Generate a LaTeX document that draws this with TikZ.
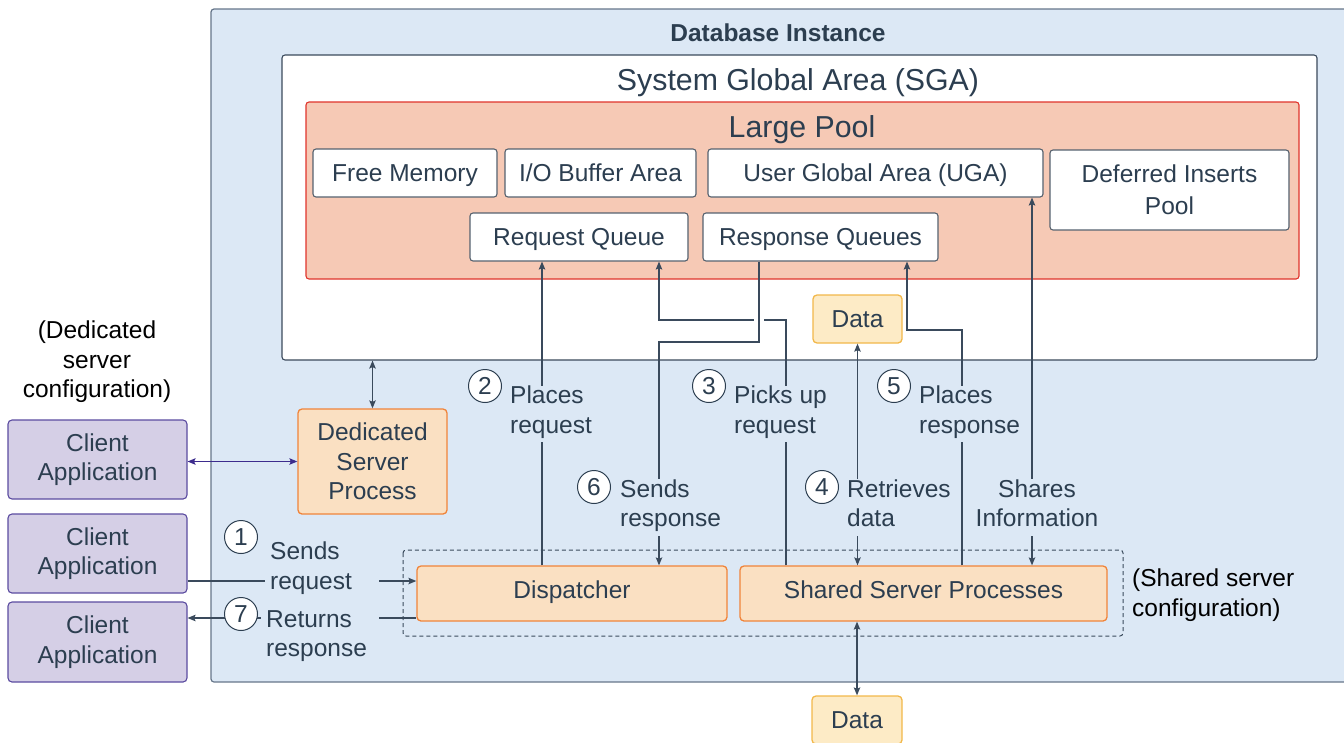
\documentclass[tikz,border=0pt]{standalone}
\usepackage{fontspec}
\setmainfont{Liberation Sans}
\usetikzlibrary{arrows.meta}
\definecolor{txt}{HTML}{2C3E50}
\definecolor{lncol}{HTML}{3A4A5C}
\definecolor{dbfill}{HTML}{DCE8F5}
\definecolor{dbborder}{HTML}{66768A}
\definecolor{sgaborder}{HTML}{3B4A5C}
\definecolor{lpfill}{HTML}{F6C9B5}
\definecolor{lpborder}{HTML}{E0342C}
\definecolor{wborder}{HTML}{56626F}
\definecolor{ofill}{HTML}{FAE0C2}
\definecolor{oborder}{HTML}{F0843A}
\definecolor{dfill}{HTML}{FDEBC6}
\definecolor{dborder}{HTML}{F2B84A}
\definecolor{cfill}{HTML}{D5CFE6}
\definecolor{cborder}{HTML}{5B4BA0}
\definecolor{pline}{HTML}{3D2C8D}
\newcommand\fsn{\fontsize{24.5}{29.5}\selectfont}
\newcommand\fst{\fontsize{30.3}{35}\selectfont}
\newcommand\fsb{\fontsize{24.5}{29}\selectfont\bfseries}
\tikzset{
  base/.style={font=\fsn, text=txt, align=center, inner sep=0pt},
  one/.style={text height=17.5pt, text depth=0pt},
  onelow/.style={text height=17.5pt, text depth=8pt},
  st/.style={execute at begin node=\strut, execute at end node=\strut},
  dbbox/.style={draw=dbborder, fill=dbfill, rounded corners=3pt, line width=1.2pt, inner sep=0pt},
  sgabox/.style={draw=sgaborder, fill=white, rounded corners=3pt, line width=1.1pt, inner sep=0pt},
  lpbox/.style={draw=lpborder, fill=lpfill, rounded corners=3pt, line width=1.1pt, inner sep=0pt},
  wbox/.style={base, draw=wborder, fill=white, rounded corners=3pt, line width=1.1pt},
  obox/.style={base, draw=oborder, fill=ofill, rounded corners=4pt, line width=1.3pt},
  datbox/.style={base, draw=dborder, fill=dfill, rounded corners=4pt, line width=1.3pt},
  cbox/.style={base, draw=cborder, fill=cfill, rounded corners=4pt, line width=1.1pt},
  ttl/.style={font=\fst, text=txt, inner sep=0pt, text height=21.7pt, text depth=0pt},
  lbl/.style={base, st, fill=dbfill, align=left, inner xsep=5pt, inner ysep=0pt},
  num/.style={circle, draw=txt, fill=white, line width=1pt, minimum size=33pt, inner sep=0pt, font=\fsn, text=txt},
  conn/.style={draw=lncol, line width=1.2pt},
  tip/.tip={Stealth[length=8pt,width=6.5pt,inset=1.5pt]},
  arr/.style={conn, -tip},
  arrb/.style={conn, tip-tip},
}
\begin{document}
\begin{tikzpicture}[x=1pt,y=-1pt]
\useasboundingbox (0,0) rectangle (1344,742);
\clip (0,0) rectangle (1344,742);
% containers
\node[dbbox, minimum width=1141, minimum height=673] (db) at (781.5,345.5) {};
\node[font=\fsb, text=txt, inner sep=0pt, text height=17.5pt, text depth=0pt] (dbt) at (778,33) {Database Instance};
\node[sgabox, minimum width=1035, minimum height=305] (sga) at (799.5,207.5) {};
\node[ttl] (sgat) at (798,80) {System Global Area (SGA)};
\node[lpbox, minimum width=993, minimum height=177] (lp) at (802.5,190.5) {};
\node[ttl] (lpt) at (802,127) {Large Pool};
% large pool contents
\node[wbox, one, minimum width=184, minimum height=48] (free) at (405,173) {Free Memory};
\node[wbox, one, minimum width=191, minimum height=48] (io) at (600.5,173) {I/O Buffer Area};
\node[wbox, one, minimum width=335, minimum height=48] (uga) at (875.5,173) {User Global Area (UGA)};
\node[wbox, minimum width=239, minimum height=80] (dip) at (1169.5,190) {Deferred Inserts\\[2.5pt]Pool};
\node[wbox, one, minimum width=218, minimum height=48] (rq) at (579,237) {Request Queue};
\node[wbox, one, minimum width=235, minimum height=48] (respq) at (820.5,237) {Response Queues};
\node[datbox, one, minimum width=89, minimum height=48] (data1) at (857.5,319) {Data};
% dedicated
\node[base, st, text=black] (dedtxt) at (97,364) {(Dedicated\\server\\configuration)};
\node[obox, minimum width=149, minimum height=105] (ded) at (372.5,461.5) {Dedicated\\Server\\Process};
\node[cbox, minimum width=179, minimum height=79] (c1) at (97.5,459.5) {Client\\Application};
\node[cbox, minimum width=179, minimum height=79] (c2) at (97.5,553.5) {Client\\Application};
\node[cbox, minimum width=179, minimum height=80] (c3) at (97.5,642) {Client\\Application};
% shared
\draw[draw=lncol, line width=1pt, dash pattern=on 4pt off 3pt, rounded corners=3pt] (403,550) rectangle (1123,636);
\node[obox, onelow, minimum width=310, minimum height=55] (disp) at (572,593.5) {Dispatcher};
\node[obox, onelow, minimum width=367, minimum height=55] (ssp) at (923.5,593.5) {Shared Server Processes};
\node[base, st, text=black, align=left, anchor=west] (shtxt) at (1132,597) {(Shared server\\configuration)};
\node[datbox, one, minimum width=90, minimum height=48] (data2) at (857,720) {Data};
% helper coordinates
\coordinate (xa) at (542,0);
\coordinate (xb) at (659,0);
\coordinate (xc) at (759,0);
\coordinate (xd) at (786,0);
\coordinate (xf) at (907,0);
\coordinate (xg) at (962,0);
\coordinate (xh) at (1032,0);
\coordinate (ya) at (0,320);
\coordinate (yb) at (0,342);
\coordinate (yc) at (0,330);
\coordinate (y1) at (0,581);
\coordinate (y2) at (0,618);
% connectors
\draw[arrb] (sga.south -| ded.north) -- (ded.north);
\draw[draw=pline, line width=1.2pt, tip-tip] (c1.east |- ded.west) -- (ded.west);
\draw[arr] (c2.east |- y1) -- (disp.west |- y1);
\draw[arr] (disp.west |- y2) -- (c3.east |- y2);
\draw[arr] (disp.north -| xa) -- (rq.south -| xa);
\draw[arr] (ssp.north -| xd) -- (xd |- ya) -- (xb |- ya) -- (rq.south -| xb);
\fill[white] (754,315) rectangle (764,325);
\draw[arr] (respq.south -| xc) -- (xc |- yb) -- (xb |- yb) -- (disp.north -| xb);
\draw[arrb] (ssp.north -| data1.south) -- (data1.south);
\draw[arr] (ssp.north -| xg) -- (xg |- yc) -- (xf |- yc) -- (respq.south -| xf);
\draw[arrb] (ssp.north -| xh) -- (uga.south -| xh);
\draw[arrb] (ssp.south -| data2.north) -- (data2.north);
% labels
\node[lbl, anchor=west] (l1) at (265,570) {Sends\\request\hspace*{22pt}};
\node[lbl, anchor=west] (l7) at (261,638) {Returns\\response\hspace*{7pt}};
\node[lbl, anchor=west] (l2) at (505,414) {Places\\request};
\node[lbl, anchor=west] (l3) at (729,414) {Picks up\\request};
\node[lbl, anchor=west] (l5) at (914,414) {Places\\response};
\node[lbl, anchor=west] (l6) at (615,507.5) {Sends\\response};
\node[lbl, anchor=west] (l4) at (842,507.5) {Retrieves\\data};
\node[lbl, align=center] (lsh) at (1037,507.5) {Shares\\Information};
% step numbers
\node[num] (n1) at (241,537) {1};
\node[num] (n2) at (485,386) {2};
\node[num] (n3) at (709,386) {3};
\node[num] (n5) at (894,386) {5};
\node[num] (n6) at (594,487) {6};
\node[num] (n4) at (822,487) {4};
\node[num] (n7) at (241,614) {7};
\end{tikzpicture}
\end{document}
